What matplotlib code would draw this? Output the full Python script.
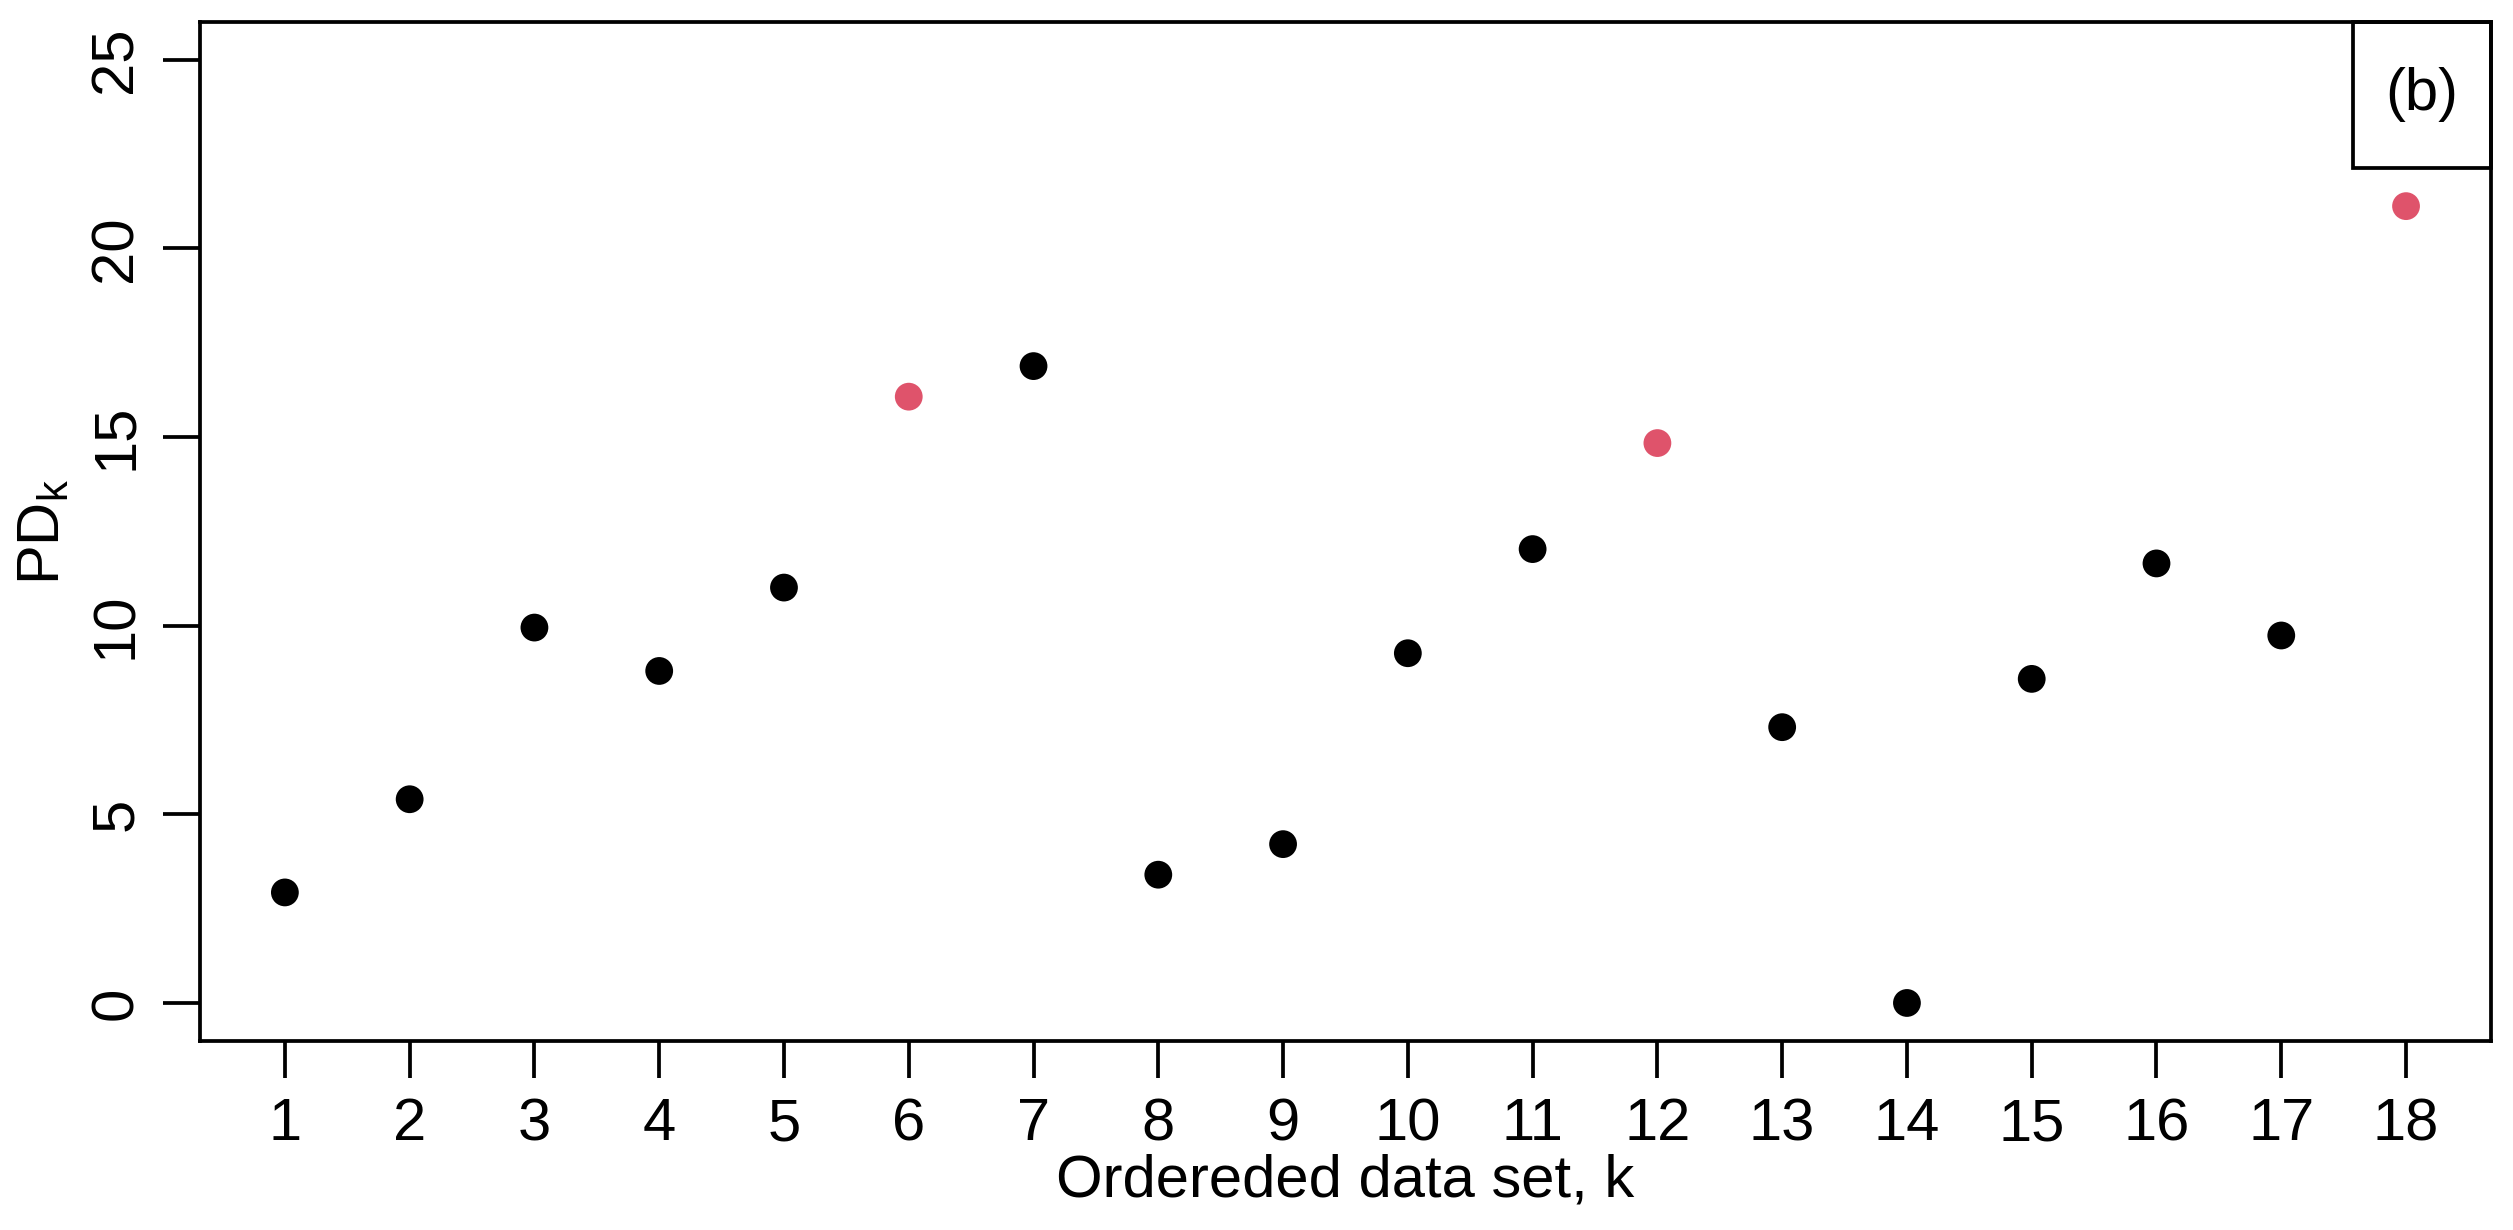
import matplotlib
matplotlib.use('Agg')
import matplotlib.pyplot as plt
from matplotlib.patches import Rectangle

# data
k_values = list(range(1, 19))
pd_values = [2.93, 5.40, 9.95, 8.80, 11.01, 16.07, 16.88, 3.40, 4.21,
             9.27, 12.03, 14.84, 7.31, 0.0, 8.59, 11.65, 9.74, 21.12]
highlighted = [6, 12, 18]
x_ticks = list(range(1, 19))
y_ticks = [0, 5, 10, 15, 20, 25]

plt.rcParams['font.family'] = ['Liberation Sans', 'DejaVu Sans']
plt.rcParams['mathtext.fontset'] = 'custom'
plt.rcParams['mathtext.rm'] = 'Liberation Sans'
plt.rcParams['mathtext.it'] = 'Liberation Sans'

fig = plt.figure(figsize=(25.13, 12.30), dpi=100)
ax = fig.add_axes([0.0796, 0.1539, 0.9116, 0.8282])

colors = ['#DF536B' if k in highlighted else 'black' for k in k_values]
ax.scatter(k_values, pd_values, s=400, c=colors, edgecolors='none', zorder=3)

ax.set_xlim(0.32, 18.68)
ax.set_ylim(-1, 26)
ax.set_xticks(x_ticks)
ax.set_yticks(y_ticks)

for sp in ax.spines.values():
    sp.set_linewidth(2.7)

ax.tick_params(axis='both', direction='out', length=26.6, width=2.7,
               pad=14, labelsize=43)
ax.tick_params(axis='y', labelrotation=90)
for lbl in ax.get_yticklabels():
    lbl.set_va('center')

ax.set_xlabel('Ordereded data set, k', fontsize=43, labelpad=1)
ax.set_ylabel(r'PD$_\mathrm{k}$', fontsize=43, labelpad=12)

# panel tag box in the upper right corner
box = Rectangle((0.940, 0.857), 0.060, 0.143, transform=ax.transAxes,
                fill=False, edgecolor='black', linewidth=2.7, clip_on=False)
ax.add_patch(box)
ax.text(0.970, 0.9285, '(b)', transform=ax.transAxes, fontsize=43,
        ha='center', va='center')

fig.savefig('out.png', dpi=100)
plt.close(fig)
